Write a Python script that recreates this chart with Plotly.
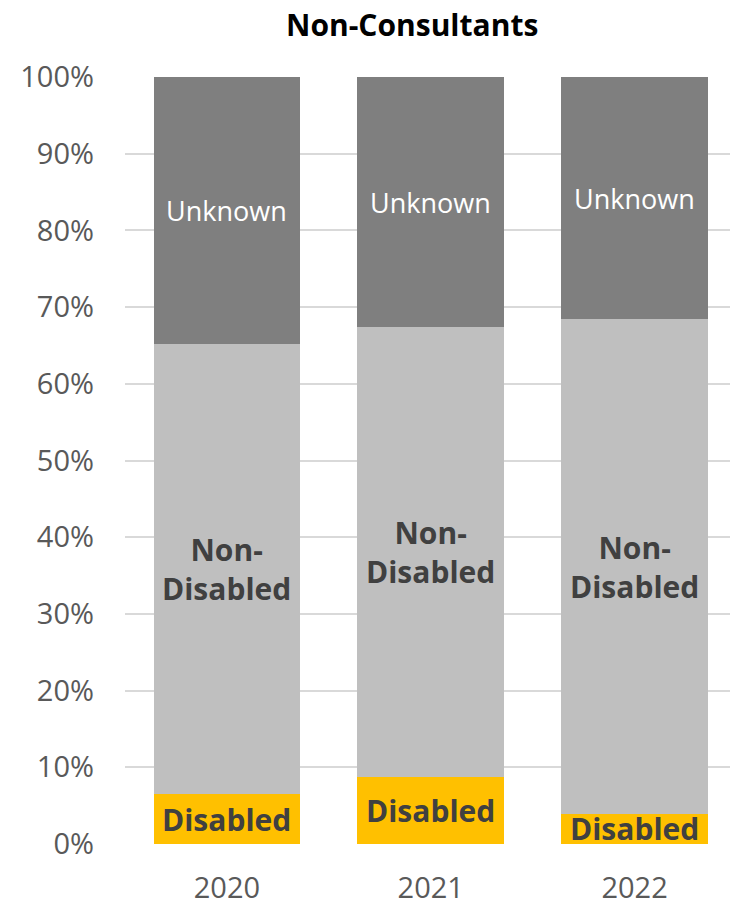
import plotly.graph_objects as go

years = ["2020", "2021", "2022"]
disabled = [6.5, 8.7, 3.95]
non_disabled = [58.75, 58.65, 64.45]
unknown = [34.75, 32.65, 31.6]

series = [
    ("Disabled", disabled, "#FFC000", "<b>Disabled</b>", "#404040", 30),
    ("Non-Disabled", non_disabled, "#BFBFBF", "<b>Non-<br>Disabled</b>", "#404040", 30),
    ("Unknown", unknown, "#7F7F7F", "Unknown", "#FFFFFF", 27),
]

fig = go.Figure()
base = [0.0] * len(years)
annotations = []
for name, vals, color, label, tcolor, tsize in series:
    fig.add_trace(go.Bar(
        name=name, x=years, y=vals, marker=dict(color=color, line=dict(width=0)),
        width=0.72, hoverinfo="skip",
    ))
    for i, v in enumerate(vals):
        annotations.append(dict(
            x=i, y=base[i] + v / 2, xref="x", yref="y", text=label,
            showarrow=False, font=dict(family="Open Sans", size=tsize, color=tcolor),
        ))
        base[i] += v

annotations.append(dict(
    x=0.475, y=1.0, xref="paper", yref="paper", yanchor="bottom", yshift=30,
    text="<b>Non-Consultants</b>", showarrow=False,
    font=dict(family="Open Sans", size=30, color="#000000"),
))

fig.update_layout(
    width=730, height=905,
    barmode="stack",
    showlegend=False,
    plot_bgcolor="white", paper_bgcolor="white",
    margin=dict(l=125, r=0, t=77, b=61),
    annotations=annotations,
    xaxis=dict(
        type="category", automargin=False,
        range=[-0.5, 2.468], showgrid=False, zeroline=False, showline=False,
        ticks="", ticklabelstandoff=24,
        tickfont=dict(family="Open Sans", size=29, color="#595959"),
    ),
    yaxis=dict(
        automargin=False,
        range=[0, 100], tickvals=list(range(0, 101, 10)),
        ticktext=[f"{v}%" for v in range(0, 101, 10)],
        showgrid=True, gridcolor="#D9D9D9", gridwidth=1.5,
        zeroline=False, showline=False, ticks="", ticklabelstandoff=30,
        tickfont=dict(family="Open Sans", size=29, color="#595959"),
    ),
)

fig.write_html("out.html")
